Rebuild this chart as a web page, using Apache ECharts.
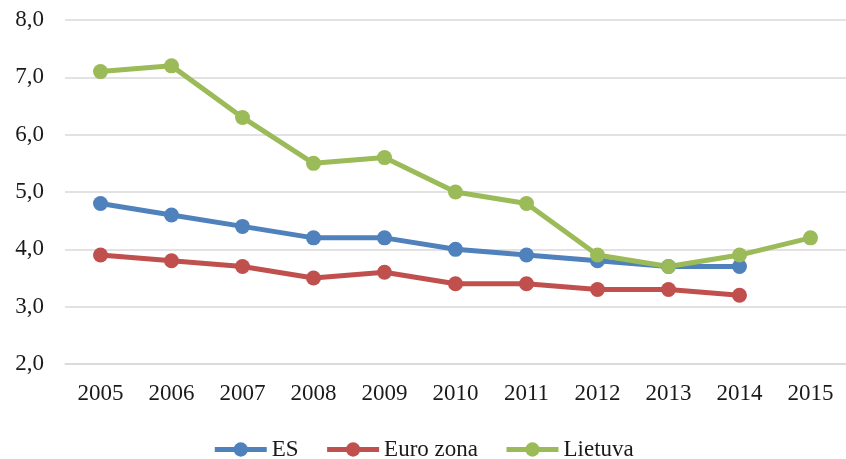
<!DOCTYPE html>
<html>
<head>
<meta charset="utf-8">
<script src="https://cdn.jsdelivr.net/npm/echarts@6/dist/echarts.min.js"></script>
<style>
  html, body { margin: 0; padding: 0; background: #fff; }
  #chart { width: 846px; height: 459px; }
</style>
</head>
<body>
<div id="chart"></div>
<script>
const years = ['2005', '2006', '2007', '2008', '2009', '2010', '2011', '2012', '2013', '2014', '2015']
const esValues = [4.8, 4.6, 4.4, 4.2, 4.2, 4.0, 3.9, 3.8, 3.7, 3.7, null]
const euroValues = [3.9, 3.8, 3.7, 3.5, 3.6, 3.4, 3.4, 3.3, 3.3, 3.2, null]
const ltValues = [7.1, 7.2, 6.3, 5.5, 5.6, 5.0, 4.8, 3.9, 3.7, 3.9, 4.2]

const font = 'Liberation Serif'
const textColor = '#1a1a1a'
const chart = echarts.init(document.getElementById('chart'))

function makeSeries(name, data, color) {
  return {
    name: name,
    type: 'line',
    data: data,
    symbol: 'circle',
    symbolSize: 15,
    itemStyle: { color: color },
    lineStyle: { color: color, width: 5 },
    animation: false
  }
}

chart.setOption({
  textStyle: { fontFamily: font },
  grid: { left: 65, right: -2, top: 20, bottom: 95 },
  legend: {
    top: 433,
    left: 'center',
    itemWidth: 52,
    itemHeight: 18,
    itemGap: 26,
    lineStyle: { width: 5 },
    textStyle: { fontFamily: font, fontSize: 23, color: textColor },
    data: ['ES', 'Euro zona', 'Lietuva']
  },
  xAxis: {
    type: 'category',
    data: years,
    axisLine: { lineStyle: { color: '#d9d9d9', width: 1.5 } },
    axisTick: { show: false },
    axisLabel: { fontFamily: font, fontSize: 23, color: textColor, margin: 18 }
  },
  yAxis: {
    type: 'value',
    min: 2,
    max: 8,
    interval: 1,
    axisLine: { show: false },
    axisTick: { show: false },
    splitLine: { lineStyle: { color: '#d9d9d9', width: 1.5 } },
    axisLabel: {
      fontFamily: font,
      fontSize: 23,
      color: textColor,
      margin: 21,
      formatter: v => v.toFixed(1).replace('.', ',')
    }
  },
  series: [
    makeSeries('ES', esValues, '#4f81bd'),
    makeSeries('Euro zona', euroValues, '#c0504d'),
    makeSeries('Lietuva', ltValues, '#9bbb59')
  ]
})
</script>
</body>
</html>
